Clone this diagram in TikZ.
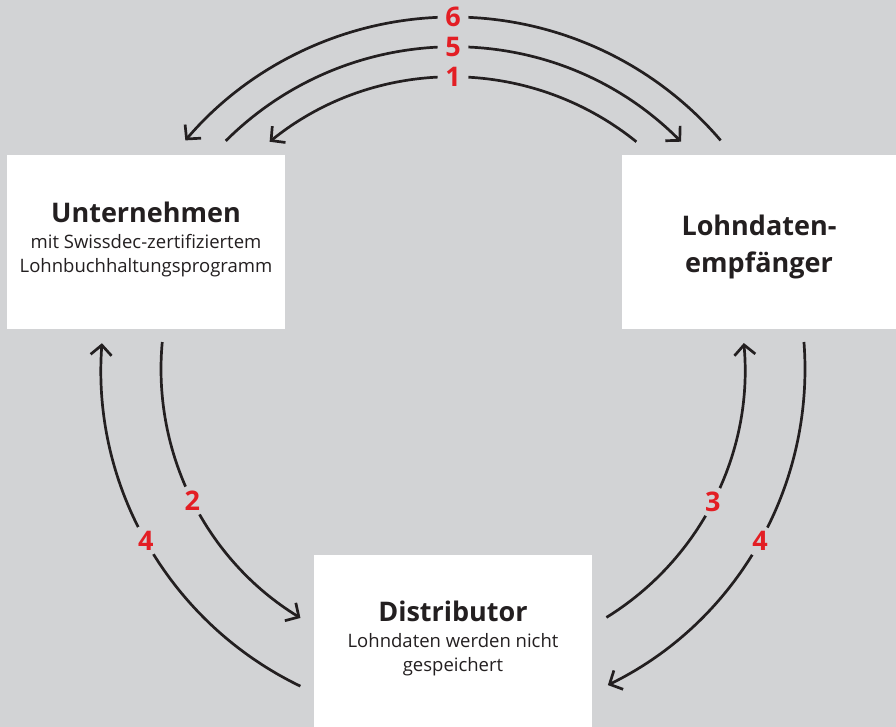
\documentclass[tikz,border=0pt]{standalone}
\usepackage{fontspec}
\setmainfont{Open Sans}
\usetikzlibrary{arrows.meta,calc}
\definecolor{bg}{HTML}{D2D3D5}
\definecolor{numred}{HTML}{E31E24}
\definecolor{ink}{HTML}{231F20}
\begin{document}
\begin{tikzpicture}[x=1pt,y=1pt,
  box/.style={fill=white, draw=none, minimum width=278pt, minimum height=174pt, inner sep=0pt},
  head/.style={anchor=base, inner sep=0pt, text=ink, font=\fontsize{27}{30}\selectfont\bfseries},
  sub/.style={anchor=base, inner sep=0pt, text=ink, font=\fontsize{18.5}{24}\selectfont},
  flow/.style={draw=ink, line width=2.7pt, -{Straight Barb[length=10pt,width=21pt]}},
  num/.style={circle, fill=bg, text=numred, font=\fontsize{27}{27}\selectfont\bfseries, inner sep=0pt, minimum size=31pt}
]
\fill[bg] (0,0) rectangle (896,727);
\useasboundingbox (0,0) rectangle (896,727);

% boxes
\node[box] (unt) at (146,485) {};
\node[box, minimum width=274pt] (emp) at (759,485) {};
\node[box, minimum height=172pt] (dis) at (453,86) {};

% box texts (baselines)
\node[head] (untA) at (146,504) {Unternehmen};
\node[sub]  (untB) at (146,478) {mit Swissdec-zertifiziertem};
\node[sub]  (untC) at (146,454) {Lohnbuchhaltungsprogramm};
\node[head] (empA) at (759,491) {Lohndaten-};
\node[head] (empB) at (759,454) {empfänger};
\node[head] (disA) at (453,105) {Distributor};
\node[sub]  (disB) at (453,79)  {Lohndaten werden nicht};
\node[sub]  (disC) at (453,55)  {gespeichert};

% centre of the circular flows
\coordinate (C) at (453,358);

% top arcs
\coordinate (a6) at ($(C)+(40.5:352)$);
\coordinate (a5) at ($(C)+(134.9:322)$);
\coordinate (a1) at ($(C)+(51.1:292)$);
\draw[flow] (a6) arc[start angle=40.5, end angle=139.5, radius=352];
\draw[flow] (a5) arc[start angle=134.9, end angle=44.9, radius=322];
\draw[flow] (a1) arc[start angle=51.1, end angle=128.9, radius=292];

% left arcs
\coordinate (l4) at ($(C)+(244.3:352)$);
\coordinate (l2) at ($(C)+(174.7:292)$);
\draw[flow] (l4) arc[start angle=244.3, end angle=175.8, radius=352];
\draw[flow] (l2) arc[start angle=174.7, end angle=238.5, radius=292];

% right arcs
\coordinate (r3) at ($(C)+(-58.3:292)$);
\coordinate (r4) at ($(C)+(4.4:352)$);
\draw[flow] (r3) arc[start angle=-58.3, end angle=5.1, radius=292];
\draw[flow] (r4) arc[start angle=4.4, end angle=-63.9, radius=352];

% step numbers
\node[num] (n6) at ($(C)+(90:352)$) {6};
\node[num] (n5) at ($(C)+(90:322)$) {5};
\node[num] (n1) at ($(C)+(90:292)$) {1};
\node[num] (n4l) at ($(C)+(209.2:352)$) {4};
\node[num] (n2) at ($(C)+(206.8:292)$) {2};
\node[num] (n3) at ($(C)+(-27.1:292)$) {3};
\node[num] (n4r) at ($(C)+(-29.3:352)$) {4};
\end{tikzpicture}
\end{document}
